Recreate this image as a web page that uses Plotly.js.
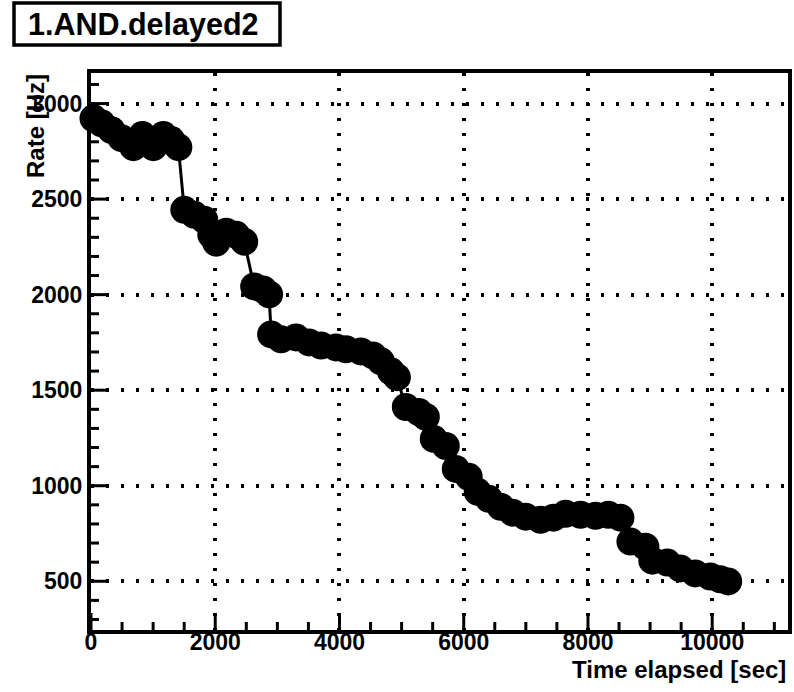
<!DOCTYPE html>
<html>
<head>
<meta charset="utf-8">
<script src="https://cdn.plot.ly/plotly-3.0.1.min.js"></script>
<style>html,body{margin:0;padding:0;background:#fff;}#chart{width:794px;height:692px;}</style>
</head>
<body>
<div id="chart"></div>
<script>
// Data
const timeSec = [40, 169, 329, 490, 683, 827, 1004, 1165, 1293, 1406,
  1502, 1663, 1823, 1936, 2016, 2177, 2337, 2466,
  2627, 2771, 2867,
  2900, 3060, 3301, 3510, 3703, 3944, 4104, 4345, 4538, 4667, 4827, 4924,
  5068, 5277, 5390,
  5518, 5711,
  5872, 6080,
  6225, 6402, 6594, 6787, 6996, 7237, 7446, 7639, 7880, 8121, 8329, 8522,
  8683, 8924, 9036, 9277, 9486, 9727, 9968, 10129, 10257];
const rateHz = [2923, 2897, 2861, 2819, 2772, 2835, 2772, 2835, 2809, 2772,
  2444, 2418, 2392, 2313, 2272, 2329, 2313, 2277,
  2043, 2027, 2001,
  1792, 1766, 1776, 1750, 1734, 1724, 1714, 1703, 1682, 1651, 1599, 1568,
  1412, 1386, 1360,
  1245, 1208,
  1088, 1047,
  968, 932, 890, 859, 838, 822, 833, 853, 848, 843, 848, 833,
  708, 681, 608, 598, 567, 541, 525, 510, 499];
const xTickStep = 2000;
const yTickStep = 500;
const xMinorStep = 500;
const yMinorStep = 100;
const titleText = "1.AND.delayed2";
const xTitle = "Time elapsed [sec]";
const yTitle = "Rate [Hz]";

const FONT = "Liberation Sans, Arial, Helvetica, sans-serif";
const X_RANGE = [0, 11220];
const Y_RANGE = [245, 3160];
const PLOT_W = 697, PLOT_H = 557;

const trace = {
  x: timeSec, y: rateHz, type: 'scatter', mode: 'lines+markers',
  line: {color: '#000', width: 3},
  marker: {color: '#000', size: 28, line: {width: 0}},
  cliponaxis: false, hoverinfo: 'skip'
};

const axisCommon = {
  showline: true, linecolor: '#000', linewidth: 4, mirror: true,
  ticks: '',
  showgrid: true, gridcolor: '#000', gridwidth: 4, griddash: '3px,12px',
  zeroline: false, tickformat: 'd',
  tickfont: {family: FONT, size: 23, color: '#000', weight: 'bold'},
  tickmode: 'linear', tick0: 0
};

// Inside tick marks along the bottom and left axes, placed on the axis scales
const tickShapes = [];
for (let v = 0; v <= X_RANGE[1]; v += xMinorStep) {
  const major = v % xTickStep === 0;
  tickShapes.push({type: 'line', xref: 'x', yref: 'paper', x0: v, x1: v, y0: 0,
    y1: (major ? 17 : 8) / PLOT_H, line: {color: '#000', width: 3}, layer: 'above'});
}
for (let v = Math.ceil(Y_RANGE[0] / yMinorStep) * yMinorStep; v <= Y_RANGE[1]; v += yMinorStep) {
  const major = v % yTickStep === 0;
  tickShapes.push({type: 'line', xref: 'paper', yref: 'y', y0: v, y1: v, x0: 0,
    x1: (major ? 17 : 8) / PLOT_W, line: {color: '#000', width: 3}, layer: 'above'});
}

const layout = {
  width: 794, height: 692,
  margin: {l: 91, r: 6, t: 73, b: 62, pad: 0},
  paper_bgcolor: '#fff', plot_bgcolor: '#fff',
  showlegend: false,
  xaxis: Object.assign({}, axisCommon, {range: X_RANGE, dtick: xTickStep, ticklabelstandoff: -12}),
  yaxis: Object.assign({}, axisCommon, {range: Y_RANGE, dtick: yTickStep}),
  shapes: tickShapes.concat([{
    type: 'rect', xref: 'paper', yref: 'paper',
    x0: (14 - 91) / PLOT_W, x1: (280 - 91) / PLOT_W,
    y0: (630 - 45) / PLOT_H, y1: (630 - 3) / PLOT_H,
    line: {color: '#000', width: 3.5}, fillcolor: '#fff'
  }]),
  annotations: [
    {text: titleText, xref: 'paper', yref: 'paper', x: (143 - 91) / PLOT_W, y: (630 - 24) / PLOT_H,
     xanchor: 'center', yanchor: 'middle', showarrow: false,
     font: {family: FONT, size: 30.5, color: '#000', weight: 'bold'}},
    {text: xTitle, xref: 'paper', yref: 'paper', x: 1, y: (630 - 669) / PLOT_H,
     xanchor: 'right', yanchor: 'middle', showarrow: false,
     font: {family: FONT, size: 24, color: '#000', weight: 'bold'}},
    {text: yTitle, xref: 'paper', yref: 'paper', x: (35 - 91) / PLOT_W, y: (630 - 72) / PLOT_H,
     xanchor: 'center', yanchor: 'top', textangle: -90, showarrow: false,
     font: {family: FONT, size: 24, color: '#000', weight: 'bold'}}
  ]
};

Plotly.newPlot('chart', [trace], layout, {staticPlot: true, displayModeBar: false});
</script>
</body>
</html>
